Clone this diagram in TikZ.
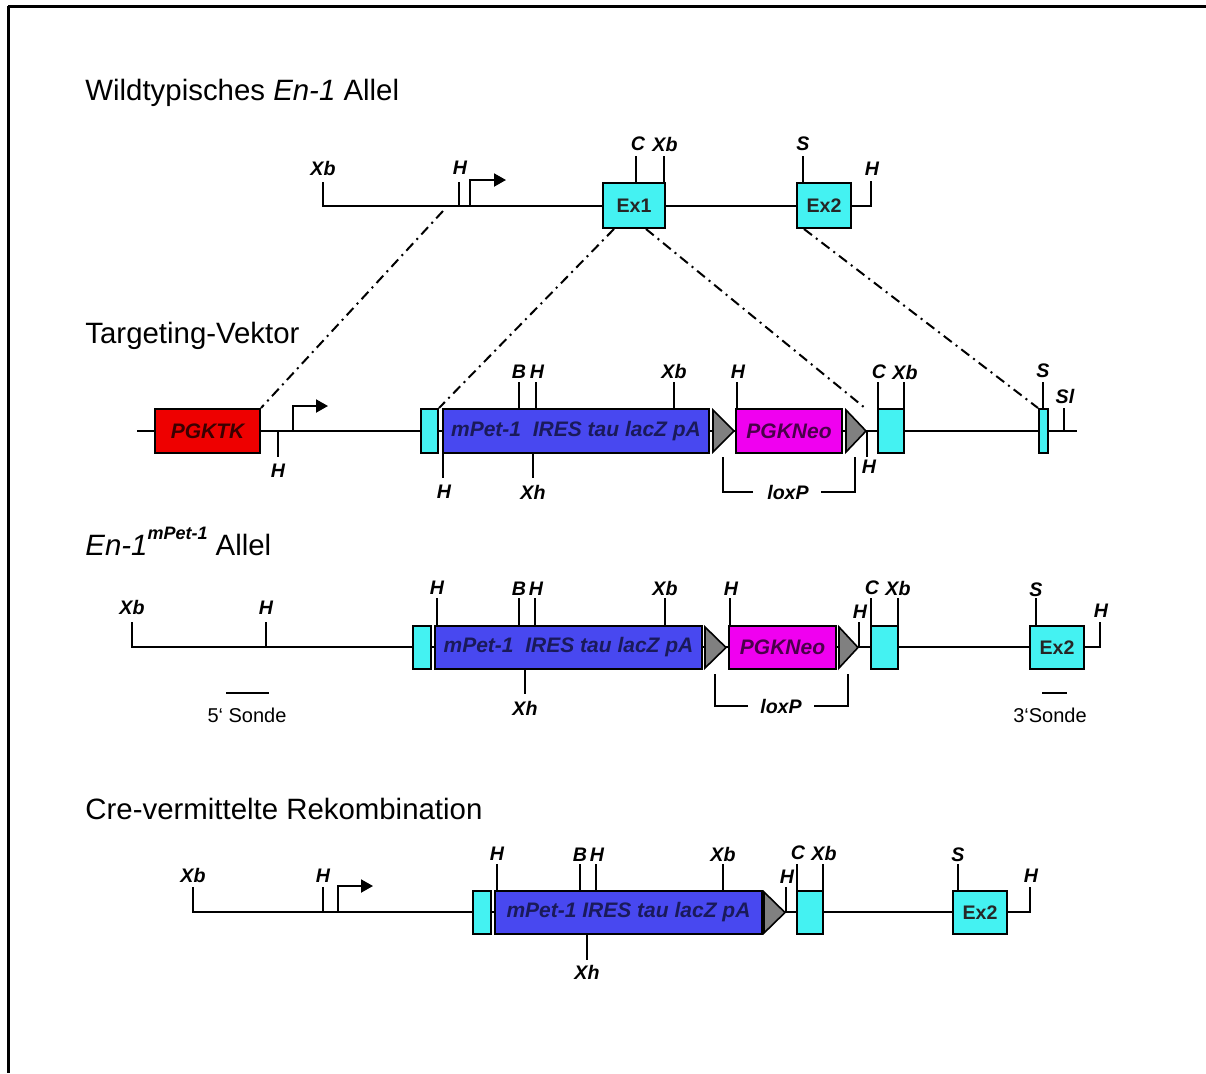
\documentclass[tikz,border=0pt]{standalone}
\usepackage{fontspec}
\setmainfont{Liberation Sans}
\usetikzlibrary{arrows.meta}
\definecolor{cyanbox}{HTML}{44F2F2}
\definecolor{bluebox}{HTML}{4848F0}
\definecolor{magbox}{HTML}{F000F0}
\definecolor{redbox}{HTML}{EE0000}
\definecolor{trigray}{HTML}{808080}
\definecolor{bluetext}{HTML}{1A1A5A}
\definecolor{redtext}{HTML}{3A0000}
\definecolor{magtext}{HTML}{4A004A}
\tikzset{
  lab/.style={font=\fontsize{9.8}{11}\selectfont\bfseries\itshape, inner sep=0pt},
  ttl/.style={font=\fontsize{14.7}{17}\selectfont, anchor=base west, inner sep=0pt},
  sonde/.style={font=\fontsize{10}{12}\selectfont, inner sep=0pt},
  gbox/.style={draw=black, line width=1pt, inner sep=0pt, font=\fontsize{10.5}{12}\selectfont\bfseries\itshape},
  exbox/.style={gbox, fill=cyanbox, font=\fontsize{9.8}{12}\selectfont\bfseries, text=black!85},
  dline/.style={line width=1pt},
  ddash/.style={line width=1pt, dash pattern=on 5pt off 2.5pt on 1pt off 2.5pt},
  loxtri/.style={fill=trigray, draw=black, line width=0.8pt, line join=miter},
  prom/.style={line width=1pt, -{Triangle[length=6pt,width=6.5pt]}},
  frame/.style={line width=1.2pt}
}
\newcommand\genebox[7]{\node[gbox, fill=#6, minimum width={(#4-#2)*0.5pt}, minimum height={(#5-#3)*0.5pt}] (#1) at ({(#2+#4)/2},{(#3+#5)/2}) {#7};}
\newcommand\exonbox[6]{\node[exbox, minimum width={(#4-#2)*0.5pt}, minimum height={(#5-#3)*0.5pt}] (#1) at ({(#2+#4)/2},{(#3+#5)/2}) {#6};}
\begin{document}
\begin{tikzpicture}[x=0.5pt,y=-0.5pt]
\useasboundingbox (0,0) rectangle (1206,1073);
\fill[white] (0,0) rectangle (1206,1073);
% frame
\draw[frame] (8,6.5) -- (1206,6.5);
\draw[frame] (8.5,6) -- (8.5,1073);

% ================= Row 1: wild type =================
\node[ttl] (t1) at (85,100) {Wildtypisches \textit{En-1} Allel};
\draw[dline] (323,182) -- (323,206) -- (797,206);
\draw[dline] (851,206) -- (871,206) -- (871,181);
\draw[dline] (459,182) -- (459,206);
\draw[prom] (470,206) -- (470,180) -- (506,180);
\exonbox{ex1}{603}{183}{665}{228}{Ex1}
\exonbox{ex2}{797}{183}{851}{228}{Ex2}
\draw[dline] (636,156) -- (636,183);
\draw[dline] (664,156) -- (664,183);
\draw[dline] (803,156) -- (803,183);
\node[lab] (r1xb) at (323,168) {Xb};
\node[lab] (r1h) at (460,168) {H};
\node[lab] (r1c) at (638,144) {C};
\node[lab] (r1xb2) at (665,144) {Xb};
\node[lab] (r1s) at (803,144) {S};
\node[lab] (r1h2) at (872,169) {H};
\coordinate (d1) at (443,211);

% ================= Row 2: targeting vector =================
\node[ttl] (t2) at (85,343) {Targeting-Vektor};
\draw[dline] (137,431) -- (1077,431);
\draw[dline] (278,431) -- (278,457);
\draw[prom] (293,431) -- (293,406) -- (328,406);
\genebox{pgktk}{155}{409}{260}{453}{redbox}{\textcolor{redtext}{PGKTK}}
\genebox{c2a}{421}{409}{438}{453}{cyanbox}{}
\genebox{blue2}{443}{409}{709}{453}{bluebox}{\textcolor{bluetext}{mPet-1\ \ IRES tau lacZ pA}}
\filldraw[loxtri] (713,410) -- (734,431) -- (713,452) -- cycle;
\genebox{neo2}{736}{409}{842}{453}{magbox}{\textcolor{magtext}{PGKNeo}}
\filldraw[loxtri] (846,410) -- (866,431) -- (846,452) -- cycle;
\genebox{c2b}{878}{409}{904}{453}{cyanbox}{}
\genebox{c2c}{1039}{409}{1048}{453}{cyanbox}{}
% ticks
\draw[dline] (443,453) -- (443,478);
\draw[dline] (519,382) -- (519,409);
\draw[dline] (536,382) -- (536,409);
\draw[dline] (533,453) -- (533,478);
\draw[dline] (674,382) -- (674,409);
\draw[dline] (737,382) -- (737,409);
\draw[dline] (867,431) -- (867,457);
\draw[dline] (878,382) -- (878,409);
\draw[dline] (904,382) -- (904,409);
\draw[dline] (1043,382) -- (1043,409);
\draw[dline] (1064,408) -- (1064,431);
\node[lab] (r2h0) at (278,471) {H};
\node[lab] (r2hb) at (444,492) {H};
\node[lab] (r2b) at (519,372) {B};
\node[lab] (r2h1) at (537,372) {H};
\node[lab] (r2xh) at (533,492) {Xh};
\node[lab] (r2xb) at (674,371) {Xb};
\node[lab] (r2h2) at (738,372) {H};
\node[lab] (r2h3) at (869,467) {H};
\node[lab] (r2c) at (879,372) {C};
\node[lab] (r2xb2) at (905,372) {Xb};
\node[lab] (r2s) at (1043,371) {S};
\node[lab] (r2sl) at (1065,396) {Sl};
% loxP bracket
\node[lab] (lox2) at (788,492) {loxP};
\draw[dline] (753,492) -- (723,492) -- (723,457);
\draw[dline] (821,492) -- (855,492) -- (855,457);
% dash-dot homology lines
\draw[ddash] (d1) -- (pgktk.north east);
\draw[ddash] ([xshift=6pt]ex1.south west) -- (c2a.north east);
\draw[ddash] ([xshift=-10pt]ex1.south east) -- ([xshift=-6pt]c2b.north west);
\draw[ddash] ([xshift=4pt]ex2.south west) -- (c2c.north west);

% ================= Row 3: En-1 mPet-1 allele =================
\node[ttl] (t3) at (85,555) {\textit{En-1}\raisebox{8pt}{\fontsize{9}{10}\selectfont\bfseries\itshape mPet-1} Allel};
\draw[dline] (132,622) -- (132,647) -- (1030,647);
\draw[dline] (1084,647) -- (1100,647) -- (1100,622);
\draw[dline] (266,622) -- (266,647);
\draw[dline] (859,647) -- (859,622);
\genebox{c3a}{413}{626}{431}{669}{cyanbox}{}
\genebox{blue3}{435}{626}{702}{669}{bluebox}{\textcolor{bluetext}{mPet-1\ \ IRES tau lacZ pA}}
\filldraw[loxtri] (705,627) -- (726,647.5) -- (705,668) -- cycle;
\genebox{neo3}{729}{626}{836}{669}{magbox}{\textcolor{magtext}{PGKNeo}}
\filldraw[loxtri] (839,627) -- (858,647.5) -- (839,668) -- cycle;
\genebox{c3b}{871}{626}{898}{669}{cyanbox}{}
\exonbox{ex2b}{1030}{626}{1084}{669}{Ex2}
\draw[dline] (437,598) -- (437,626);
\draw[dline] (519,598) -- (519,626);
\draw[dline] (535,598) -- (535,626);
\draw[dline] (525,669) -- (525,694);
\draw[dline] (665,598) -- (665,626);
\draw[dline] (730,598) -- (730,626);
\draw[dline] (871,598) -- (871,626);
\draw[dline] (898,598) -- (898,626);
\draw[dline] (1036,598) -- (1036,626);
\node[lab] (r3xb) at (132,607) {Xb};
\node[lab] (r3h) at (266,608) {H};
\node[lab] (r3h1) at (437,588) {H};
\node[lab] (r3b) at (519,589) {B};
\node[lab] (r3h2) at (536,589) {H};
\node[lab] (r3xh) at (525,708) {Xh};
\node[lab] (r3xb2) at (665,588) {Xb};
\node[lab] (r3h3) at (731,589) {H};
\node[lab] (r3h4) at (860,612) {H};
\node[lab] (r3c) at (872,588) {C};
\node[lab] (r3xb3) at (898,588) {Xb};
\node[lab] (r3s) at (1036,590) {S};
\node[lab] (r3h5) at (1101,611) {H};
\node[lab] (lox3) at (781,706) {loxP};
\draw[dline] (748,706) -- (715,706) -- (715,674);
\draw[dline] (814,706) -- (848,706) -- (848,674);
\draw[line width=1.3pt] (226,693) -- (269,693);
\node[sonde] (s5) at (247,715) {5‘ Sonde};
\draw[line width=1.3pt] (1042,693) -- (1067,693);
\node[sonde] (s3) at (1050,715) {3‘Sonde};

% ================= Row 4: Cre-mediated recombination =================
\node[ttl] (t4) at (85,819) {Cre-vermittelte Rekombination};
\draw[dline] (193,887) -- (193,912) -- (953,912);
\draw[dline] (1007,912) -- (1030,912) -- (1030,887);
\draw[dline] (323,887) -- (323,912);
\draw[prom] (338,912) -- (338,886) -- (373,886);
\genebox{c4a}{473}{891}{491}{934}{cyanbox}{}
\genebox{blue4}{495}{891}{762}{934}{bluebox}{\textcolor{bluetext}{mPet-1 IRES tau lacZ pA}}
\filldraw[loxtri] (764,892) -- (785,912.5) -- (764,933) -- cycle;
\genebox{c4b}{797}{891}{823}{934}{cyanbox}{}
\exonbox{ex2c}{953}{891}{1007}{934}{Ex2}
\draw[dline] (497,864) -- (497,891);
\draw[dline] (580,864) -- (580,891);
\draw[dline] (596,864) -- (596,891);
\draw[dline] (587,934) -- (587,960);
\draw[dline] (723,864) -- (723,891);
\draw[dline] (786,912) -- (786,887);
\draw[dline] (797,864) -- (797,891);
\draw[dline] (823,864) -- (823,891);
\draw[dline] (958,864) -- (958,891);
\node[lab] (r4xb) at (193,875) {Xb};
\node[lab] (r4h) at (323,876) {H};
\node[lab] (r4h1) at (497,854) {H};
\node[lab] (r4b) at (580,855) {B};
\node[lab] (r4h2) at (597,855) {H};
\node[lab] (r4xh) at (587,972) {Xh};
\node[lab] (r4xb2) at (723,854) {Xb};
\node[lab] (r4h3) at (787,877) {H};
\node[lab] (r4c) at (798,853) {C};
\node[lab] (r4xb3) at (824,853) {Xb};
\node[lab] (r4s) at (958,855) {S};
\node[lab] (r4h4) at (1031,876) {H};
\end{tikzpicture}
\end{document}
